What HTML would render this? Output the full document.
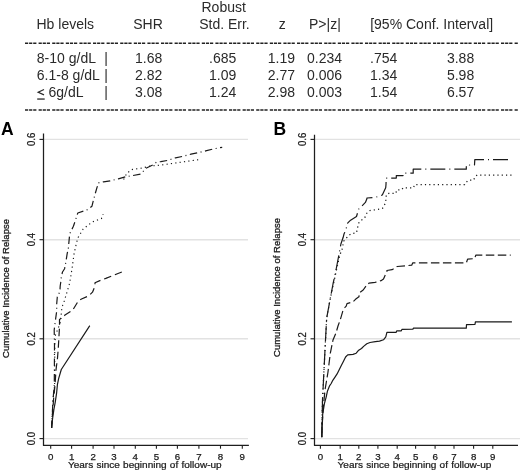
<!DOCTYPE html>
<html><head><meta charset="utf-8"><style>
html,body{margin:0;padding:0;background:#fff;width:520px;height:472px;overflow:hidden}
svg{display:block;filter:blur(0.4px)}
</style></head><body>
<svg width="520" height="472" viewBox="0 0 520 472">
<rect width="520" height="472" fill="#fff"/>
<g fill="#2a2a2a" font-family='"Liberation Sans", sans-serif'>
<text x="201.5" y="11.6" text-anchor="start" font-size="14" >Robust</text>
<text x="36.5" y="29.2" text-anchor="start" font-size="14" >Hb levels</text>
<text x="133.2" y="29.2" text-anchor="start" font-size="14" >SHR</text>
<text x="199.2" y="29.2" text-anchor="start" font-size="14" >Std. Err.</text>
<text x="278.7" y="29.2" text-anchor="start" font-size="14" >z</text>
<text x="309" y="29.2" text-anchor="start" font-size="14" >P&gt;|z|</text>
<text x="370.2" y="29.2" text-anchor="start" font-size="14" >[95% Conf. Interval]</text>
<text x="36.8" y="62.7" text-anchor="start" font-size="14" >8-10 g/dL</text>
<text x="104.2" y="62.7" text-anchor="start" font-size="14" >|</text>
<text x="162.3" y="62.7" text-anchor="end" font-size="14" >1.68</text>
<text x="236.3" y="62.7" text-anchor="end" font-size="14" >.685</text>
<text x="295" y="62.7" text-anchor="end" font-size="14" >1.19</text>
<text x="342.1" y="62.7" text-anchor="end" font-size="14" >0.234</text>
<text x="397.3" y="62.7" text-anchor="end" font-size="14" >.754</text>
<text x="474.2" y="62.7" text-anchor="end" font-size="14" >3.88</text>
<text x="36.8" y="80.0" text-anchor="start" font-size="14" >6.1-8 g/dL</text>
<text x="104.2" y="80.0" text-anchor="start" font-size="14" >|</text>
<text x="162.3" y="80.0" text-anchor="end" font-size="14" >2.82</text>
<text x="236.3" y="80.0" text-anchor="end" font-size="14" >1.09</text>
<text x="295" y="80.0" text-anchor="end" font-size="14" >2.77</text>
<text x="342.1" y="80.0" text-anchor="end" font-size="14" >0.006</text>
<text x="397.3" y="80.0" text-anchor="end" font-size="14" >1.34</text>
<text x="474.2" y="80.0" text-anchor="end" font-size="14" >5.98</text>
<polyline points="44,89.5 38.2,92.2 44,94.9" fill="none" stroke="#2a2a2a" stroke-width="1.25"/>
<rect x="37.2" y="98.4" width="7.5" height="1.3"/>
<text x="48.5" y="97.4" text-anchor="start" font-size="14" >6g/dL</text>
<text x="104.2" y="97.4" text-anchor="start" font-size="14" >|</text>
<text x="162.3" y="97.4" text-anchor="end" font-size="14" >3.08</text>
<text x="236.3" y="97.4" text-anchor="end" font-size="14" >1.24</text>
<text x="295" y="97.4" text-anchor="end" font-size="14" >2.98</text>
<text x="342.1" y="97.4" text-anchor="end" font-size="14" >0.003</text>
<text x="397.3" y="97.4" text-anchor="end" font-size="14" >1.54</text>
<text x="474.2" y="97.4" text-anchor="end" font-size="14" >6.57</text>
</g>
<line x1="25" y1="43.2" x2="518" y2="43.2" stroke="#222" stroke-width="1.6" stroke-dasharray="3.2 0.9 3.2 0.9 3.2 2.2"/>
<line x1="25" y1="110" x2="518" y2="110" stroke="#222" stroke-width="1.6" stroke-dasharray="3.2 0.9 3.2 0.9 3.2 2.2"/>
<text x="1" y="134.6" font-family='"Liberation Sans", sans-serif' font-weight="bold" font-size="17.5" fill="#000">A</text>
<text x="273.6" y="135" font-family='"Liberation Sans", sans-serif' font-weight="bold" font-size="17.5" fill="#000">B</text>
<line x1="44.1" y1="438.6" x2="248" y2="438.6" stroke="#e2e2e2" stroke-width="1.4"/>
<line x1="44.1" y1="338.8" x2="248" y2="338.8" stroke="#e2e2e2" stroke-width="1.4"/>
<line x1="44.1" y1="239.7" x2="248" y2="239.7" stroke="#e2e2e2" stroke-width="1.4"/>
<line x1="44.1" y1="139.4" x2="248" y2="139.4" stroke="#e2e2e2" stroke-width="1.4"/>
<line x1="39.5" y1="438.6" x2="43.5" y2="438.6" stroke="#1e1e1e" stroke-width="1.1"/>
<text transform="translate(34.7,438.6) rotate(-90) scale(0.95,1)" text-anchor="middle" font-size="10.1" font-family='"Liberation Sans", sans-serif' fill="#1a1a1a" stroke="#1a1a1a" stroke-width="0.25">0.0</text>
<line x1="39.5" y1="338.8" x2="43.5" y2="338.8" stroke="#1e1e1e" stroke-width="1.1"/>
<text transform="translate(34.7,338.8) rotate(-90) scale(0.95,1)" text-anchor="middle" font-size="10.1" font-family='"Liberation Sans", sans-serif' fill="#1a1a1a" stroke="#1a1a1a" stroke-width="0.25">0.2</text>
<line x1="39.5" y1="239.7" x2="43.5" y2="239.7" stroke="#1e1e1e" stroke-width="1.1"/>
<text transform="translate(34.7,239.7) rotate(-90) scale(0.95,1)" text-anchor="middle" font-size="10.1" font-family='"Liberation Sans", sans-serif' fill="#1a1a1a" stroke="#1a1a1a" stroke-width="0.25">0.4</text>
<line x1="39.5" y1="139.4" x2="43.5" y2="139.4" stroke="#1e1e1e" stroke-width="1.1"/>
<text transform="translate(34.7,139.4) rotate(-90) scale(0.95,1)" text-anchor="middle" font-size="10.1" font-family='"Liberation Sans", sans-serif' fill="#1a1a1a" stroke="#1a1a1a" stroke-width="0.25">0.6</text>
<path d="M43.5,133.6 V445.4 H248.9" fill="none" stroke="#1e1e1e" stroke-width="1.25" stroke-linejoin="round"/>
<line x1="50.7" y1="445" x2="50.7" y2="448.7" stroke="#1e1e1e" stroke-width="1.1"/>
<text x="50.7" y="459.8" text-anchor="middle" font-size="9.7" font-family='"Liberation Sans", sans-serif' fill="#1a1a1a" stroke="#1a1a1a" stroke-width="0.25">0</text>
<line x1="71.6" y1="445" x2="71.6" y2="448.7" stroke="#1e1e1e" stroke-width="1.1"/>
<text x="71.6" y="459.8" text-anchor="middle" font-size="9.7" font-family='"Liberation Sans", sans-serif' fill="#1a1a1a" stroke="#1a1a1a" stroke-width="0.25">1</text>
<line x1="93.1" y1="445" x2="93.1" y2="448.7" stroke="#1e1e1e" stroke-width="1.1"/>
<text x="93.1" y="459.8" text-anchor="middle" font-size="9.7" font-family='"Liberation Sans", sans-serif' fill="#1a1a1a" stroke="#1a1a1a" stroke-width="0.25">2</text>
<line x1="114" y1="445" x2="114" y2="448.7" stroke="#1e1e1e" stroke-width="1.1"/>
<text x="114" y="459.8" text-anchor="middle" font-size="9.7" font-family='"Liberation Sans", sans-serif' fill="#1a1a1a" stroke="#1a1a1a" stroke-width="0.25">3</text>
<line x1="135.3" y1="445" x2="135.3" y2="448.7" stroke="#1e1e1e" stroke-width="1.1"/>
<text x="135.3" y="459.8" text-anchor="middle" font-size="9.7" font-family='"Liberation Sans", sans-serif' fill="#1a1a1a" stroke="#1a1a1a" stroke-width="0.25">4</text>
<line x1="156.4" y1="445" x2="156.4" y2="448.7" stroke="#1e1e1e" stroke-width="1.1"/>
<text x="156.4" y="459.8" text-anchor="middle" font-size="9.7" font-family='"Liberation Sans", sans-serif' fill="#1a1a1a" stroke="#1a1a1a" stroke-width="0.25">5</text>
<line x1="177.4" y1="445" x2="177.4" y2="448.7" stroke="#1e1e1e" stroke-width="1.1"/>
<text x="177.4" y="459.8" text-anchor="middle" font-size="9.7" font-family='"Liberation Sans", sans-serif' fill="#1a1a1a" stroke="#1a1a1a" stroke-width="0.25">6</text>
<line x1="198.9" y1="445" x2="198.9" y2="448.7" stroke="#1e1e1e" stroke-width="1.1"/>
<text x="198.9" y="459.8" text-anchor="middle" font-size="9.7" font-family='"Liberation Sans", sans-serif' fill="#1a1a1a" stroke="#1a1a1a" stroke-width="0.25">7</text>
<line x1="220.5" y1="445" x2="220.5" y2="448.7" stroke="#1e1e1e" stroke-width="1.1"/>
<text x="220.5" y="459.8" text-anchor="middle" font-size="9.7" font-family='"Liberation Sans", sans-serif' fill="#1a1a1a" stroke="#1a1a1a" stroke-width="0.25">8</text>
<line x1="242.3" y1="445" x2="242.3" y2="448.7" stroke="#1e1e1e" stroke-width="1.1"/>
<text x="242.3" y="459.8" text-anchor="middle" font-size="9.7" font-family='"Liberation Sans", sans-serif' fill="#1a1a1a" stroke="#1a1a1a" stroke-width="0.25">9</text>
<text transform="translate(67.9,467.5) scale(1,0.9)" word-spacing="0.45" font-size="10.05" font-family='"Liberation Sans", sans-serif' fill="#1a1a1a" stroke="#1a1a1a" stroke-width="0.25">Years since beginning of follow-up</text>
<text transform="translate(8.5,288.5) rotate(-90)" text-anchor="middle" font-size="9.5" font-family='"Liberation Sans", sans-serif' fill="#1a1a1a" stroke="#1a1a1a" stroke-width="0.3">Cumulative Incidence of Relapse</text>
<line x1="315.1" y1="438.6" x2="520" y2="438.6" stroke="#e2e2e2" stroke-width="1.4"/>
<line x1="315.1" y1="338.8" x2="520" y2="338.8" stroke="#e2e2e2" stroke-width="1.4"/>
<line x1="315.1" y1="239.7" x2="520" y2="239.7" stroke="#e2e2e2" stroke-width="1.4"/>
<line x1="315.1" y1="139.4" x2="520" y2="139.4" stroke="#e2e2e2" stroke-width="1.4"/>
<line x1="310.5" y1="438.6" x2="314.5" y2="438.6" stroke="#1e1e1e" stroke-width="1.1"/>
<text transform="translate(305.8,438.6) rotate(-90) scale(0.95,1)" text-anchor="middle" font-size="10.1" font-family='"Liberation Sans", sans-serif' fill="#1a1a1a" stroke="#1a1a1a" stroke-width="0.25">0.0</text>
<line x1="310.5" y1="338.8" x2="314.5" y2="338.8" stroke="#1e1e1e" stroke-width="1.1"/>
<text transform="translate(305.8,338.8) rotate(-90) scale(0.95,1)" text-anchor="middle" font-size="10.1" font-family='"Liberation Sans", sans-serif' fill="#1a1a1a" stroke="#1a1a1a" stroke-width="0.25">0.2</text>
<line x1="310.5" y1="239.7" x2="314.5" y2="239.7" stroke="#1e1e1e" stroke-width="1.1"/>
<text transform="translate(305.8,239.7) rotate(-90) scale(0.95,1)" text-anchor="middle" font-size="10.1" font-family='"Liberation Sans", sans-serif' fill="#1a1a1a" stroke="#1a1a1a" stroke-width="0.25">0.4</text>
<line x1="310.5" y1="139.4" x2="314.5" y2="139.4" stroke="#1e1e1e" stroke-width="1.1"/>
<text transform="translate(305.8,139.4) rotate(-90) scale(0.95,1)" text-anchor="middle" font-size="10.1" font-family='"Liberation Sans", sans-serif' fill="#1a1a1a" stroke="#1a1a1a" stroke-width="0.25">0.6</text>
<path d="M314.5,134.7 V445.4 H518" fill="none" stroke="#1e1e1e" stroke-width="1.25" stroke-linejoin="round"/>
<line x1="320.4" y1="445" x2="320.4" y2="448.7" stroke="#1e1e1e" stroke-width="1.1"/>
<text x="320.4" y="459.8" text-anchor="middle" font-size="9.7" font-family='"Liberation Sans", sans-serif' fill="#1a1a1a" stroke="#1a1a1a" stroke-width="0.25">0</text>
<line x1="340.2" y1="445" x2="340.2" y2="448.7" stroke="#1e1e1e" stroke-width="1.1"/>
<text x="340.2" y="459.8" text-anchor="middle" font-size="9.7" font-family='"Liberation Sans", sans-serif' fill="#1a1a1a" stroke="#1a1a1a" stroke-width="0.25">1</text>
<line x1="358.8" y1="445" x2="358.8" y2="448.7" stroke="#1e1e1e" stroke-width="1.1"/>
<text x="358.8" y="459.8" text-anchor="middle" font-size="9.7" font-family='"Liberation Sans", sans-serif' fill="#1a1a1a" stroke="#1a1a1a" stroke-width="0.25">2</text>
<line x1="377.9" y1="445" x2="377.9" y2="448.7" stroke="#1e1e1e" stroke-width="1.1"/>
<text x="377.9" y="459.8" text-anchor="middle" font-size="9.7" font-family='"Liberation Sans", sans-serif' fill="#1a1a1a" stroke="#1a1a1a" stroke-width="0.25">3</text>
<line x1="397.2" y1="445" x2="397.2" y2="448.7" stroke="#1e1e1e" stroke-width="1.1"/>
<text x="397.2" y="459.8" text-anchor="middle" font-size="9.7" font-family='"Liberation Sans", sans-serif' fill="#1a1a1a" stroke="#1a1a1a" stroke-width="0.25">4</text>
<line x1="415.6" y1="445" x2="415.6" y2="448.7" stroke="#1e1e1e" stroke-width="1.1"/>
<text x="415.6" y="459.8" text-anchor="middle" font-size="9.7" font-family='"Liberation Sans", sans-serif' fill="#1a1a1a" stroke="#1a1a1a" stroke-width="0.25">5</text>
<line x1="435.1" y1="445" x2="435.1" y2="448.7" stroke="#1e1e1e" stroke-width="1.1"/>
<text x="435.1" y="459.8" text-anchor="middle" font-size="9.7" font-family='"Liberation Sans", sans-serif' fill="#1a1a1a" stroke="#1a1a1a" stroke-width="0.25">6</text>
<line x1="454" y1="445" x2="454" y2="448.7" stroke="#1e1e1e" stroke-width="1.1"/>
<text x="454" y="459.8" text-anchor="middle" font-size="9.7" font-family='"Liberation Sans", sans-serif' fill="#1a1a1a" stroke="#1a1a1a" stroke-width="0.25">7</text>
<line x1="473.6" y1="445" x2="473.6" y2="448.7" stroke="#1e1e1e" stroke-width="1.1"/>
<text x="473.6" y="459.8" text-anchor="middle" font-size="9.7" font-family='"Liberation Sans", sans-serif' fill="#1a1a1a" stroke="#1a1a1a" stroke-width="0.25">8</text>
<line x1="492.8" y1="445" x2="492.8" y2="448.7" stroke="#1e1e1e" stroke-width="1.1"/>
<text x="492.8" y="459.8" text-anchor="middle" font-size="9.7" font-family='"Liberation Sans", sans-serif' fill="#1a1a1a" stroke="#1a1a1a" stroke-width="0.25">9</text>
<text transform="translate(337.6,467.5) scale(1,0.9)" word-spacing="0.45" font-size="10.05" font-family='"Liberation Sans", sans-serif' fill="#1a1a1a" stroke="#1a1a1a" stroke-width="0.25">Years since beginning of follow-up</text>
<text transform="translate(279.5,287.5) rotate(-90)" text-anchor="middle" font-size="9.5" font-family='"Liberation Sans", sans-serif' fill="#1a1a1a" stroke="#1a1a1a" stroke-width="0.3">Cumulative Incidence of Relapse</text>
<g>
<path d="M51.6,428 L53,400 L54.3,385 L54.5,345 L54.2,330 L55.4,320.6 L56.7,311 L56.7,304 L57.3,297 L59.9,291.4 L60.2,286 L60.8,282 L61.4,276.3 L62.5,272 L64.6,268.7 L65.9,261.7 L67.1,254.1 L68.4,247.8 L69.7,233.8 L73.4,226.3 L75.6,219.7 L77.8,213 L84.5,210.8 L88.2,209.3 L91.9,206.3 L93.4,200.4 L95.4,193 L97.4,186.2 L98,183 L103.5,181.8 L110.2,180.9 L118.3,178.8 L125.7,176.8 L133,175.5 L140.5,174.1 L146.5,168 L153.3,164.7 L156.4,162.2 L160.8,161.6 L167.7,160.4 L175.5,157.8 L182.4,156.4 L191,154.2 L198.8,152.6 L206.6,150.7 L214.4,148.7 L222.2,147.3" fill="none" stroke="#1a1a1a" stroke-width="1.2" stroke-dasharray="7.5 3.5 1 3.5" stroke-linejoin="round"/>
<path d="M51.6,428 L53,400 L54.6,385 L54.8,345 L55.5,335 L59.9,323.8 L60.5,321.3 L61.8,308.6 L62.4,306 L64.3,301 L69.7,283 L72.2,267.5 L74.1,253.5 L76.7,242 L78.2,237.4 L83.2,229 L92.1,222.1 L101.5,218.5 L103.2,214.2" fill="none" stroke="#1a1a1a" stroke-width="1.15" stroke-dasharray="1.2 3.2" stroke-linejoin="round"/>
<path d="M123.6,179.5 L127,173 L132.4,169.4 L142.5,168 L150,166 L160.8,165.1 L200.6,159.4" fill="none" stroke="#1a1a1a" stroke-width="1.15" stroke-dasharray="1.2 3.2" stroke-linejoin="round"/>
<path d="M51.6,428 L53.5,400 L55,385 L56,370 L57.5,358 L58.3,348 L59.5,327 L59.5,319.4 L61.8,318 L65,315 L72,310.5 L74.5,307.3 L78.3,301 L81.5,299 L89,295.7 L92.5,292.2 L95,286 L95,282.8 L101.9,279.7 L105.8,278.4 L113.5,275.4 L117.4,273.7 L123.4,271.3" fill="none" stroke="#1a1a1a" stroke-width="1.2" stroke-dasharray="7.5 4" stroke-linejoin="round"/>
<path d="M51.6,427.5 L52.6,418.5 L53.9,409.5 L55.2,402.3 L56.6,393.2 L57.4,384.7 L58.7,378.4 L61.3,369.5 L89.8,325.6" fill="none" stroke="#1a1a1a" stroke-width="1.2"  stroke-linejoin="round"/>
</g>
<g>
<path d="M321.7,437 L322.5,400 L324,370 L325.5,340 L326.7,318 L330,300 L333,284 L336,270 L339.8,250 L340.9,244 L343.2,237.3 L343.9,234.3 L346.1,229.1 L346.9,225.4 L347.6,223.2 L350.6,220.2 L356.5,216.5 L358,211.3 L358.7,209.1 L361,206.9 L365.4,202.4 L366.9,198.7 L366.9,198 L375,197.5 L382.3,195 L385.7,187.8 L386,184.5 L386.2,178.1 L396.3,178.1 L396.3,175.6 L403,175.6 L403,173.2 L413.2,173.2 L413.2,169.2 L466.3,169.2 L466.3,166.5 L469.5,166.5 L469.5,165 L474.5,165 L474.8,159.6 L511,159.6" fill="none" stroke="#1a1a1a" stroke-width="1.2" stroke-dasharray="15 4 1 4" stroke-linejoin="round"/>
<path d="M321.7,437 L322.5,400 L324,370 L325.5,340 L326.7,318 L330,300 L333,286 L336,272 L339.8,255 L342,249.7 L343.7,241.2 L348.3,235.8 L351.3,233.6 L356.5,232.8 L357.2,229.1 L358.7,223.2 L360.2,221 L364.7,218 L366.1,214.3 L367.6,212.1 L369.9,210.6 L379.5,209.1 L382.5,208.4 L385.4,203.2 L386.2,197.2 L386.2,194.6 L389,193.3 L396,193.3 L396.5,190 L402,189.6 L403,187.8 L413.5,187.8 L414.5,184.6 L464.7,184.6 L466.3,182.2 L468.3,180.2 L473.5,180.2 L475.1,177 L477.1,175 L512,175" fill="none" stroke="#1a1a1a" stroke-width="1.25" stroke-dasharray="1.2 3.1" stroke-linejoin="round"/>
<path d="M321.7,437 L323,410 L325,390 L328,372 L330.3,353.3 L333,340 L336,333 L338,326 L340.3,319.7 L342.8,311.2 L344.5,307.8 L346.2,306.1 L347,303.6 L353,301.9 L355.5,299.3 L358.9,296.8 L359.8,292.5 L363.2,290 L367.4,284 L369,283.2 L375,282.4 L381,280.7 L383.5,279 L386.9,271.4 L386.9,270.5 L392,269.7 L397.2,266.5 L411.7,265.2 L412.8,262.8 L466.4,262.8 L467.6,259.1 L474.6,258.6 L475.8,255.2 L510.7,255.2" fill="none" stroke="#1a1a1a" stroke-width="1.2" stroke-dasharray="8.5 3.5" stroke-linejoin="round"/>
<path d="M321.8,437.6 L322.2,424.9 L322.7,414.2 L324.4,403.6 L326.1,397.3 L327.5,390.9 L329.7,385.6 L331.2,383.5 L332.8,380.3 L335,377.1 L337.1,373.9 L339.2,369.7 L341.3,365.5 L343.5,361.2 L345.6,357 L347.7,354.8 L353,354.4 L356.2,353.2 L358.3,350.6 L361.5,348.5 L363.6,346.4 L366.8,343.8 L370,342.5 L375.3,341.7 L379.5,341.1 L383.5,339.8 L385.8,336.9 L386.9,332.3 L396.2,332.3 L396.7,330.9 L401.3,330.9 L401.9,329.4 L412.9,329.1 L413.5,328.1 L466.3,328.1 L466.5,324.6 L475,324.4 L475.4,321.9 L511.9,321.9" fill="none" stroke="#1a1a1a" stroke-width="1.2"  stroke-linejoin="round"/>
</g>
</svg>
</body></html>
